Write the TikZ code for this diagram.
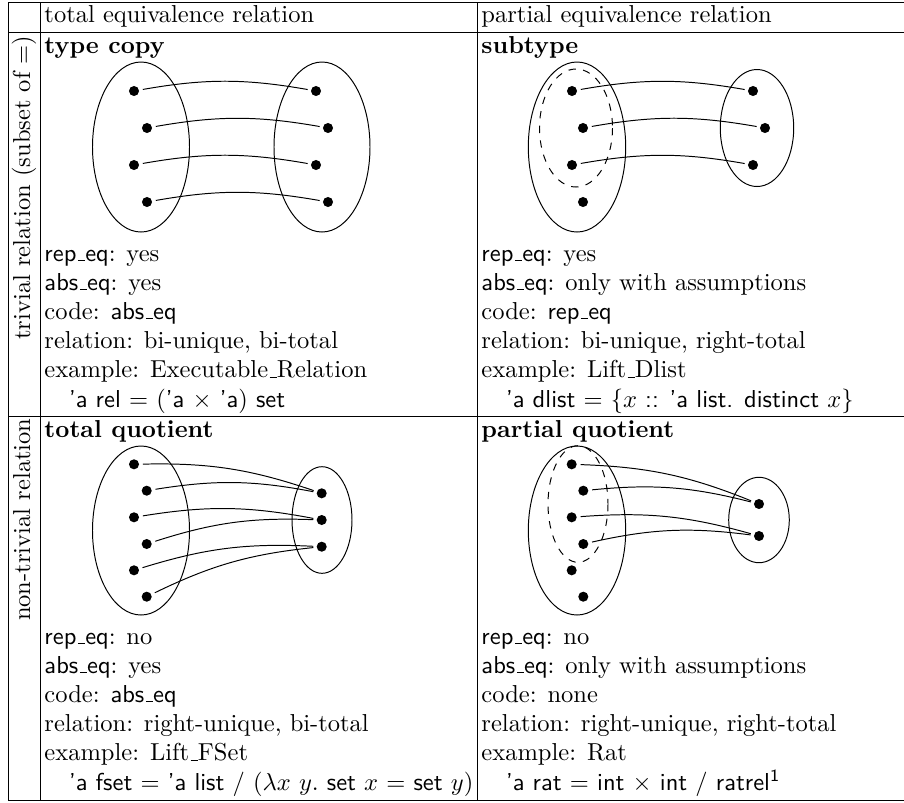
\documentclass[tikz,border=0pt]{standalone}
\newcommand\usc{\leavevmode\kern.06em\vbox{\hrule width.3em}}
\begin{document}
\begin{tikzpicture}[x=0.408pt,y=-0.408pt,
  cell/.style={anchor=base west, inner sep=0pt},
  rot/.style={anchor=base east, inner sep=0pt, rotate=90},
  dot/.style={circle, fill, inner sep=0pt, minimum size=4.1pt, outer sep=0pt},
  link/.style={bend left=10, line width=0.4pt, shorten <=1.6pt, shorten >=1.4pt},
  rule/.style={line width=0.4pt},
  setl/.style={line width=0.4pt},
  sub/.style={line width=0.4pt, dashed}]
\useasboundingbox (0,0) rectangle (904,802);
% table rules
\draw[rule] (8,2) -- (904,2);
\draw[rule] (8,32) -- (904,32);
\draw[rule] (8,416) -- (904,416);
\draw[rule] (8,800) -- (904,800);
\draw[rule] (8,2) -- (8,800);
\draw[rule] (40,2) -- (40,800);
\draw[rule] (477,2) -- (477,800);
% headers
\node[cell] (h1) at (44,22.7) {total equivalence relation};
\node[cell] (h2) at (481,22.7) {partial equivalence relation};
\node[rot] (r1) at (30,35) {trivial relation (subset of $=$)};
\node[rot] (r2) at (30,418) {non-trivial relation};
% titles
\node[cell] (t1) at (44,53) {\textbf{type copy}};
\node[cell] (t2) at (481,53) {\textbf{subtype}};
\node[cell] (t3) at (44,437) {\textbf{total quotient}};
\node[cell] (t4) at (481,437) {\textbf{partial quotient}};
% top-left text
\node[cell] (a1) at (44,261) {\textsf{rep\usc eq}: yes};
\node[cell] (a2) at (44,290.2) {\textsf{abs\usc eq}: yes};
\node[cell] (a3) at (44,319.4) {code: \textsf{abs\usc eq}};
\node[cell] (a4) at (44,348.6) {relation: bi-unique, bi-total};
\node[cell] (a5) at (44,377.8) {example: Executable\usc Relation};
\node[cell] (a6) at (44,407) {\quad\textsf{'a rel} $=$ $($\textsf{'a} $\times$ \textsf{'a}$)$ \textsf{set}};
% top-right text
\node[cell] (b1) at (481,261) {\textsf{rep\usc eq}: yes};
\node[cell] (b2) at (481,290.2) {\textsf{abs\usc eq}: only with assumptions};
\node[cell] (b3) at (481,319.4) {code: \textsf{rep\usc eq}};
\node[cell] (b4) at (481,348.6) {relation: bi-unique, right-total};
\node[cell] (b5) at (481,377.8) {example: Lift\usc Dlist};
\node[cell] (b6) at (481,407) {\quad\textsf{'a dlist} $=$ $\{x$ \textsf{:: 'a list. distinct} $x\}$};
% bottom-left text
\node[cell] (c1) at (44,644) {\textsf{rep\usc eq}: no};
\node[cell] (c2) at (44,673.2) {\textsf{abs\usc eq}: yes};
\node[cell] (c3) at (44,702.4) {code: \textsf{abs\usc eq}};
\node[cell] (c4) at (44,731.6) {relation: right-unique, bi-total};
\node[cell] (c5) at (44,760.8) {example: Lift\usc FSet};
\node[cell] (c6) at (44,790) {\quad\textsf{'a fset} $=$ \textsf{'a list /} $(\lambda x\ y.$ \textsf{set} $x$ $=$ \textsf{set} $y)$};
% bottom-right text
\node[cell] (d1) at (481,644) {\textsf{rep\usc eq}: no};
\node[cell] (d2) at (481,673.2) {\textsf{abs\usc eq}: only with assumptions};
\node[cell] (d3) at (481,702.4) {code: none};
\node[cell] (d4) at (481,731.6) {relation: right-unique, right-total};
\node[cell] (d5) at (481,760.8) {example: Rat};
\node[cell] (d6) at (481,790) {\quad\textsf{'a rat} $=$ \textsf{int} $\times$ \textsf{int / ratrel\textsuperscript{1}}};
% ---- type copy
\draw[setl] (141,147) ellipse [x radius=48.5, y radius=85];
\draw[setl] (322,147) ellipse [x radius=48, y radius=85];
\node[dot] (tcl1) at (134,91) {};
\node[dot] (tcl2) at (147,128) {};
\node[dot] (tcl3) at (134,165) {};
\node[dot] (tcl4) at (147,202) {};
\node[dot] (tcr1) at (316,91) {};
\node[dot] (tcr2) at (328,128) {};
\node[dot] (tcr3) at (316,165) {};
\node[dot] (tcr4) at (328,202) {};
\draw[link] (tcl1) to (tcr1);
\draw[link] (tcl2) to (tcr2);
\draw[link] (tcl3) to (tcr3);
\draw[link] (tcl4) to (tcr4);
% ---- subtype
\draw[setl] (577,147) ellipse [x radius=48.7, y radius=85];
\draw[sub] (576,128) ellipse [x radius=36.5, y radius=59];
\draw[setl] (757,128) ellipse [x radius=36.7, y radius=58.5];
\node[dot] (stl1) at (572,91) {};
\node[dot] (stl2) at (583,128) {};
\node[dot] (stl3) at (572,165) {};
\node[dot] (stl4) at (583,202) {};
\node[dot] (str1) at (753,91) {};
\node[dot] (str2) at (765,128) {};
\node[dot] (str3) at (753,165) {};
\draw[link] (stl1) to (str1);
\draw[link] (stl2) to (str2);
\draw[link] (stl3) to (str3);
% ---- total quotient
\draw[setl] (141,530.5) ellipse [x radius=48.5, y radius=84.5];
\draw[setl] (322,520) ellipse [x radius=30, y radius=53.3];
\node[dot] (tql1) at (134,464.3) {};
\node[dot] (tql2) at (146.7,490.7) {};
\node[dot] (tql3) at (134,517.3) {};
\node[dot] (tql4) at (146.7,544) {};
\node[dot] (tql5) at (134,570.3) {};
\node[dot] (tql6) at (146.7,596.7) {};
\node[dot] (tqr1) at (321.7,493.3) {};
\node[dot] (tqr2) at (321.7,520) {};
\node[dot] (tqr3) at (321.7,546.7) {};
\draw[link] (tql1) to (tqr1);
\draw[link] (tql2) to (tqr1);
\draw[link] (tql3) to (tqr2);
\draw[link] (tql4) to (tqr2);
\draw[link] (tql5) to (tqr3);
\draw[link] (tql6) to (tqr3);
% ---- partial quotient
\draw[setl] (577,530.5) ellipse [x radius=48.7, y radius=84.5];
\draw[sub] (578,504) ellipse [x radius=30, y radius=58.3];
\draw[setl] (759,520) ellipse [x radius=30.3, y radius=42.7];
\node[dot] (pql1) at (571.7,464.3) {};
\node[dot] (pql2) at (583.3,490.7) {};
\node[dot] (pql3) at (571.7,517.3) {};
\node[dot] (pql4) at (583.3,544) {};
\node[dot] (pql5) at (571.7,570.3) {};
\node[dot] (pql6) at (583.3,596.7) {};
\node[dot] (pqr1) at (759,504) {};
\node[dot] (pqr2) at (759,536) {};
\draw[link] (pql1) to (pqr1);
\draw[link] (pql2) to (pqr1);
\draw[link] (pql3) to (pqr2);
\draw[link] (pql4) to (pqr2);
\end{tikzpicture}
\end{document}
